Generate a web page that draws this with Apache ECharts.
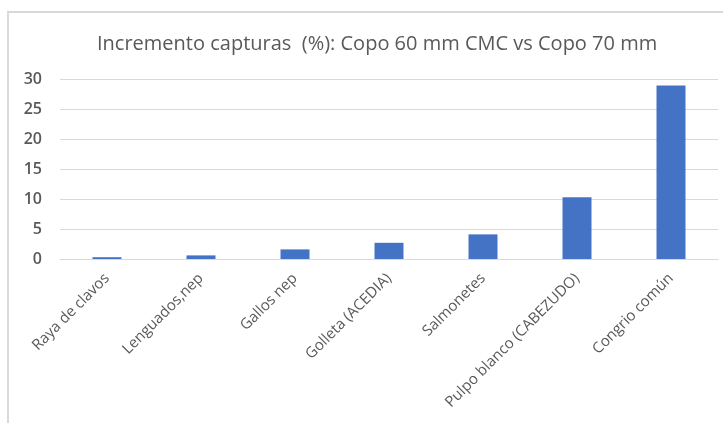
<!DOCTYPE html>
<html>
<head>
<meta charset="utf-8">
<script src="https://cdn.jsdelivr.net/npm/echarts@6/dist/echarts.min.js"></script>
<style>
  html, body { margin: 0; padding: 0; background: #fff; }
  #chart { width: 723px; height: 423px; }
</style>
</head>
<body>
<div id="chart"></div>
<script>
// Species names along the category axis
const categories = [
  'Raya de clavos',
  'Lenguados,nep',
  'Gallos nep',
  'Golleta (ACEDIA)',
  'Salmonetes',
  'Pulpo blanco (CABEZUDO)',
  'Congrio común'
];
// Catch increase (%) per species
const increments = [0.3, 0.6, 1.6, 2.7, 4.1, 10.3, 28.9];
// Value axis ticks
const yTicks = [0, 5, 10, 15, 20, 25, 30];

const textColor = '#595959';
const gridColor = '#d9d9d9';
const fontFamily = '"Open Sans", "Noto Sans", sans-serif';

const chart = echarts.init(document.getElementById('chart'), null, { renderer: 'canvas' });
chart.setOption({
  animation: false,
  backgroundColor: '#fff',
  title: {
    text: 'Incremento capturas  (%): Copo 60 mm CMC vs Copo 70 mm',
    left: 92,
    top: 29,
    textStyle: { color: textColor, fontSize: 20, fontWeight: 'normal', fontFamily: fontFamily }
  },
  graphic: [{
    type: 'rect',
    shape: { x: 8, y: 12, width: 800, height: 600 },
    style: { fill: 'none', stroke: gridColor, lineWidth: 2 },
    silent: true
  }],
  grid: { left: 60, right: 5, top: 79, bottom: 164, containLabel: false },
  xAxis: {
    type: 'category',
    data: categories,
    axisLine: { lineStyle: { color: gridColor, width: 1 } },
    axisTick: { show: false },
    axisLabel: {
      rotate: 45,
      interval: 0,
      color: textColor,
      fontSize: 15,
      fontFamily: fontFamily,
      margin: 17
    }
  },
  yAxis: {
    type: 'value',
    min: yTicks[0],
    max: yTicks[yTicks.length - 1],
    interval: yTicks[1] - yTicks[0],
    axisLine: { show: false },
    axisTick: { show: false },
    splitLine: { lineStyle: { color: gridColor, width: 1 } },
    axisLabel: { color: textColor, fontSize: 16, fontWeight: 600, fontFamily: fontFamily, margin: 18 }
  },
  series: [{
    type: 'bar',
    data: increments,
    barWidth: 29,
    itemStyle: { color: '#4472c4' }
  }]
});
</script>
</body>
</html>
